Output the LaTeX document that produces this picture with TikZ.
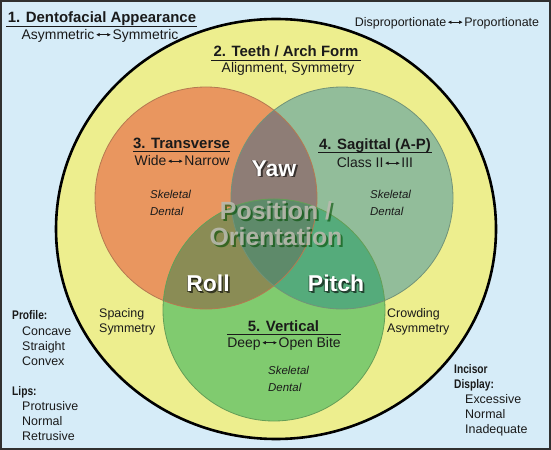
\documentclass[tikz,border=0pt]{standalone}
\usepackage{fontspec}
\setmainfont{Liberation Sans}
\newfontfamily\narrowfont[FakeStretch=0.82]{Liberation Sans}
\usetikzlibrary{arrows.meta}
\definecolor{bg}{HTML}{D6ECF8}
\definecolor{frame}{HTML}{303030}
\definecolor{yel}{HTML}{EDEE8E}
\definecolor{ora}{HTML}{E9965F}
\definecolor{sag}{HTML}{92BD9A}
\definecolor{ver}{HTML}{80CB6F}
\definecolor{yawc}{HTML}{8E7D76}
\definecolor{rollc}{HTML}{8A8C55}
\definecolor{pitchc}{HTML}{55AB7B}
\definecolor{cenc}{HTML}{5E8A6A}
\definecolor{txt}{HTML}{1A1A1A}
\definecolor{posc}{HTML}{B9BAAE}
\newcommand\lrarr{\hspace{1.2pt}\tikz[baseline={(0pt,-0.65ex)}]\draw[line width=0.7pt,{Latex[length=3.6pt,width=3.6pt]}-{Latex[length=3.6pt,width=3.6pt]}] (0pt,0pt)--(15pt,0pt);\hspace{1.2pt}}
\tikzset{
 title/.style={font=\fontsize{15}{18}\selectfont\bfseries, text=txt, anchor=base, inner sep=0pt},
 sub/.style={font=\fontsize{14}{17}\selectfont, text=txt, anchor=base, inner sep=0pt},
 small/.style={font=\fontsize{12.5}{15}\selectfont, text=txt, anchor=base west, inner sep=0pt},
 ital/.style={font=\fontsize{11.5}{14}\selectfont\itshape, text=txt, anchor=base west, inner sep=0pt},
 head/.style={font=\narrowfont\fontsize{12.5}{15}\selectfont\bfseries, text=txt, anchor=base west, inner sep=0pt},
 big/.style={font=\fontsize{23}{26}\selectfont\bfseries, text=white, anchor=base, inner sep=0pt},
 bigshadow/.style={big, text=black, text opacity=0.6},
 posit/.style={font=\fontsize{25}{28}\selectfont\bfseries, text=posc, text opacity=0.9, anchor=base, inner sep=0pt},
 positshadow/.style={posit, text=black!70!green, text opacity=0.6},
 uline/.style={line width=0.9bp, draw=txt},
 rim/.style={line width=0.8bp},
}
\begin{document}
\begin{tikzpicture}[x=1bp,y=-1bp]
\useasboundingbox (0,0) rectangle (551,450);
\fill[bg] (0,0) rectangle (551,450);
% coordinates of circle centres
\coordinate (big) at (276,229);
\coordinate (co) at (206,198);
\coordinate (cs) at (342,198);
\coordinate (cv) at (274,310);
% big arch ellipse
\filldraw[fill=yel, draw=black, line width=2.6bp] (big) ellipse [x radius=220, y radius=210];
% three circles
\fill[ora] (co) circle [radius=111];
\fill[sag] (cs) circle [radius=111];
\fill[ver] (cv) circle [radius=111];
\begin{scope}
 \clip (co) circle [radius=111];
 \fill[yawc] (cs) circle [radius=111];
 \fill[rollc] (cv) circle [radius=111];
 \clip (cs) circle [radius=111];
 \fill[cenc] (cv) circle [radius=111];
\end{scope}
\begin{scope}
 \clip (cs) circle [radius=111];
 \clip (cv) circle [radius=111];
 \begin{scope}[even odd rule]
  \clip (co) circle [radius=111] (0,0) rectangle (551,450);
  \fill[pitchc] (cv) circle [radius=111];
 \end{scope}
\end{scope}
\draw[rim, draw=ora!80!black!90!gray] (co) circle [radius=111];
\draw[rim, draw=sag!78!black] (cs) circle [radius=111];
\draw[rim, draw=ver!78!black] (cv) circle [radius=111];
% frame
\draw[frame, line width=2bp] (1,1) rectangle (550,449);

% 1. Dentofacial Appearance
\node[title] (t1) at (102,22.4) {1. Dentofacial Appearance};
\coordinate (u1a) at (6,26); \coordinate (u1b) at (197,26);
\draw[uline] (u1a) -- (u1b);
\node[sub] (s1) at (100,39.5) {Asymmetric\lrarr Symmetric};
\node[small, anchor=base] (dp) at (447,26.5) {Disproportionate\lrarr Proportionate};

% 2. Teeth / Arch Form
\node[title] (t2) at (286,56.5) {2. Teeth / Arch Form};
\coordinate (u2a) at (211,60.2); \coordinate (u2b) at (361,60.2);
\draw[uline] (u2a) -- (u2b);
\node[sub] (s2) at (288,73) {Alignment, Symmetry};

% 3. Transverse
\node[title] (t3) at (181.5,148.4) {3. Transverse};
\coordinate (u3a) at (133,151.5); \coordinate (u3b) at (230,151.5);
\draw[uline] (u3a) -- (u3b);
\node[sub] (s3) at (182,166) {Wide\lrarr Narrow};
\node[ital] (k3) at (150,198.4) {Skeletal};
\node[ital] (d3) at (150,215.8) {Dental};

% 4. Sagittal
\node[title] (t4) at (375,149.4) {4. Sagittal (A-P)};
\coordinate (u4a) at (318,152.5); \coordinate (u4b) at (432,152.5);
\draw[uline] (u4a) -- (u4b);
\node[sub] (s4) at (375,168) {Class II\lrarr III};
\node[ital] (k4) at (370,198.4) {Skeletal};
\node[ital] (d4) at (370,215.8) {Dental};

% 5. Vertical
\node[title] (t5) at (283.5,331) {5. Vertical};
\coordinate (u5a) at (227,334); \coordinate (u5b) at (341,334);
\draw[uline] (u5a) -- (u5b);
\node[sub] (s5) at (284,347.5) {Deep\lrarr Open Bite};
\node[ital] (k5) at (268,374) {Skeletal};
\node[ital] (d5) at (268,391.8) {Dental};

% Yaw / Roll / Pitch (white with dark drop shadow)
\node[bigshadow] (yawS) at (275.8,178) {Yaw};
\node[bigshadow, text opacity=0.45] (yawO) at (273.2,177) {Yaw};
\node[big] (yaw) at (274,176.2) {Yaw};
\node[bigshadow] (rollS) at (209.8,293) {Roll};
\node[bigshadow, text opacity=0.45] (rollO) at (207.2,292) {Roll};
\node[big] (roll) at (208,291.2) {Roll};
\node[bigshadow] (pitchS) at (337.8,293) {Pitch};
\node[bigshadow, text opacity=0.45] (pitchO) at (335.2,292) {Pitch};
\node[big] (pitch) at (336,291.2) {Pitch};

% Position / Orientation
\node[positshadow] (posS) at (278,222) {Position /};
\node[posit] (posT) at (276,220) {Position /};
\node[positshadow] (oriS) at (278,248) {Orientation};
\node[posit] (oriT) at (276,246) {Orientation};

% Spacing / Crowding
\node[small] (sp1) at (99,317.5) {Spacing};
\node[small] (sp2) at (99,332.5) {Symmetry};
\node[small] (cr1) at (387,317.5) {Crowding};
\node[small] (cr2) at (387,332.5) {Asymmetry};

% left list
\node[head] (prof) at (12,319.5) {Profile:};
\node[small] (p1) at (22,335) {Concave};
\node[small] (p2) at (22,350) {Straight};
\node[small] (p3) at (22,365) {Convex};
\node[head] (lips) at (12,395) {Lips:};
\node[small] (l1) at (22,410) {Protrusive};
\node[small] (l2) at (22,425) {Normal};
\node[small] (l3) at (22,440) {Retrusive};

% right list
\node[head] (inc) at (454,373.5) {Incisor};
\node[head] (disp) at (454,388.5) {Display:};
\node[small] (i1) at (465,403.5) {Excessive};
\node[small] (i2) at (465,418.5) {Normal};
\node[small] (i3) at (465,433.5) {Inadequate};
\end{tikzpicture}
\end{document}
